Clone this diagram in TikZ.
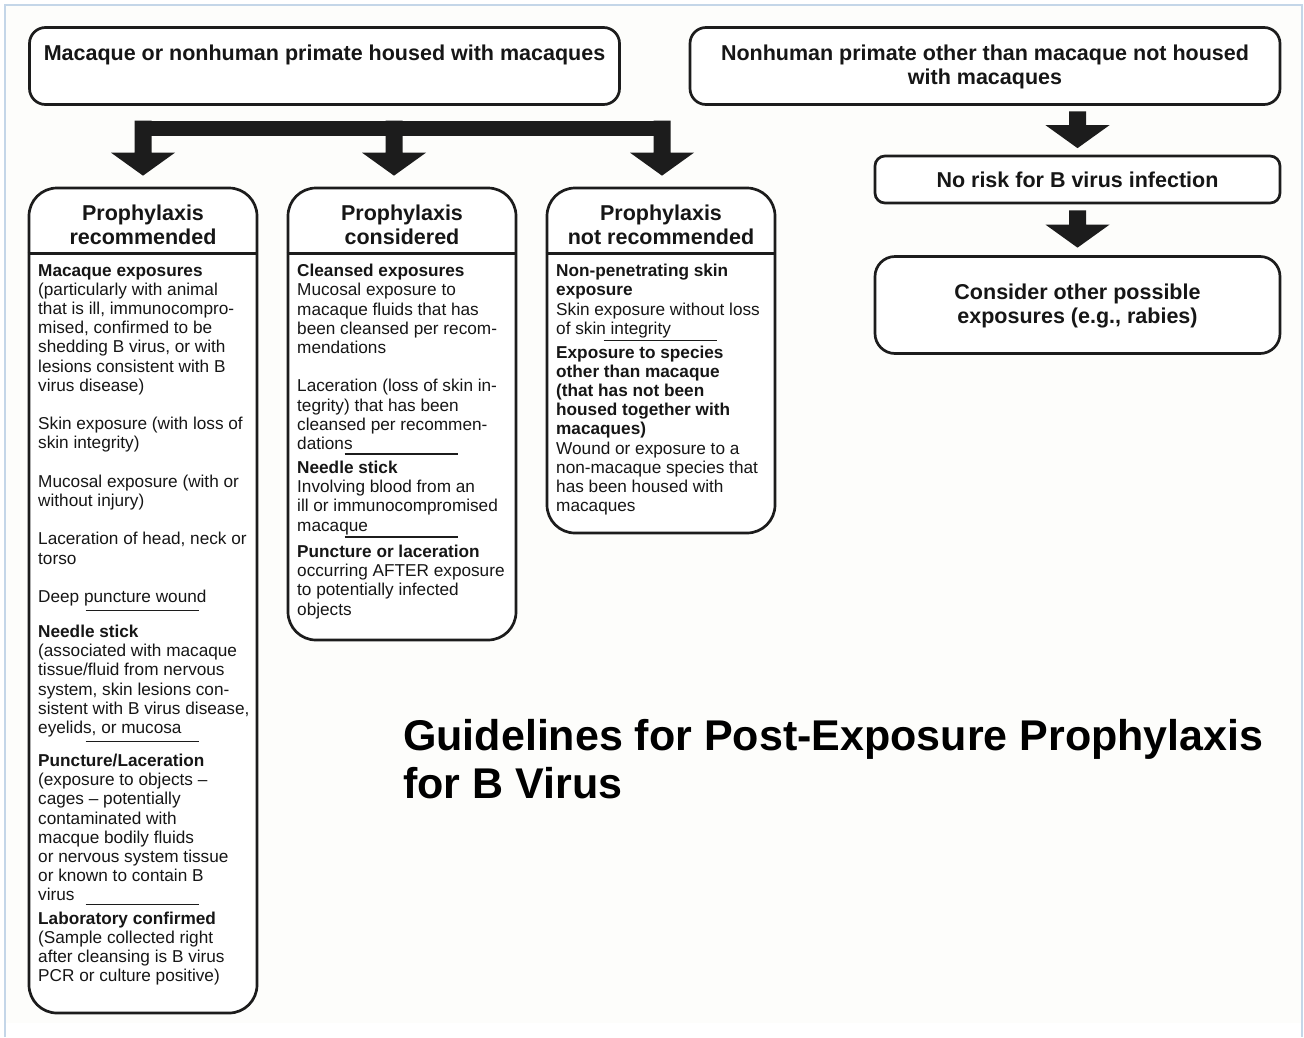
\documentclass[tikz,border=0pt]{standalone}
\usepackage{fontspec}
\setmainfont{Liberation Sans}
\usetikzlibrary{calc}

\definecolor{ink}{RGB}{28,28,28}
\definecolor{txt}{RGB}{22,22,22}
\definecolor{framecol}{RGB}{196,214,232}
\definecolor{paper}{RGB}{253,253,251}

\newcommand\bodyfont{\fontsize{17.2}{19.2}\selectfont}
\newcommand\headfont{\fontsize{21.5}{24}\selectfont\bfseries}
\newcommand\titlefont{\fontsize{43}{48}\selectfont\bfseries}

% a left-aligned text block whose anchor is the baseline of its first line
\newcommand\txtblock[3]{%
  \node[txtblk] (#1) at (#2) {\begin{minipage}[t]{250pt}\raggedright #3\end{minipage}};}
% a centred block of heading lines, anchored at the first baseline
\newcommand\headblock[4]{%
  \node[headblk] (#1) at (#2) {\begin{minipage}[t]{#3}\centering #4\end{minipage}};}
% a solid block arrow from a top point down to a tip
\newcommand\blockarrow[2]{%
  \fill[ink] ($(#1)+(-8.5,0)$) -- ($(#1)+(8.5,0)$) -- ($(#2)+(8.5,-23)$)
    -- ($(#2)+(32,-23)$) -- (#2) -- ($(#2)+(-32,-23)$) -- ($(#2)+(-8.5,-23)$) -- cycle;}

\begin{document}
\begin{tikzpicture}[x=1pt,y=-1pt,
  box/.style={draw=ink, line width=2.7pt, rounded corners=#1, inner sep=0pt, fill=white},
  box/.default=14pt,
  txtblk/.style={anchor=base west, inner sep=0pt, text=txt, font=\bodyfont},
  headblk/.style={anchor=base, inner sep=0pt, text=txt, font=\headfont},
  rule/.style={draw=ink, line width=1.6pt},
  divider/.style={draw=ink, line width=2.4pt}]

\useasboundingbox (0,0) rectangle (1304,1037);

% page frame
\fill[paper] (5,5) rectangle (1302,1023);
\draw[framecol, line width=2pt] (5,1037) -- (5,5) -- (1302,5) -- (1302,1037);

% ---------- top row ----------
\node[box=16pt, minimum width=590pt, minimum height=77pt] (hostA) at (324.5,66) {};
\node[headblk] (hostAt) at (324.5,60) {Macaque or nonhuman primate housed with macaques};

\node[box=16pt, minimum width=590pt, minimum height=77pt] (hostB) at (985,66) {};
\headblock{hostBt}{985,60}{580pt}{Nonhuman primate other than macaque not housed\\with macaques}

% ---------- right branch ----------
\node[box=10pt, minimum width=405pt, minimum height=47pt] (norisk) at (1077.5,179.5) {};
\node[headblk] (noriskt) at (1077.5,187) {No risk for B virus infection};

\node[box=20pt, minimum width=405pt, minimum height=97pt] (other) at (1077.5,305) {};
\headblock{othert}{1077.5,299.5}{400pt}{Consider other possible\\exposures (e.g., rabies)}

\coordinate (r1s) at ($(norisk.north |- hostB.south)+(0,5.5)$);
\coordinate (r1t) at ($(norisk.north)+(0,-6.5)$);
\blockarrow{r1s}{r1t}
\coordinate (r2s) at ($(norisk.south)+(0,6)$);
\coordinate (r2t) at ($(other.north)+(0,-7.5)$);
\blockarrow{r2s}{r2t}

% ---------- three columns ----------
\node[box=28pt, minimum width=228pt, minimum height=825pt] (c1) at (143,600.5) {};
\node[box=28pt, minimum width=228pt, minimum height=452pt] (c2) at (402,414) {};
\node[box=28pt, minimum width=228pt, minimum height=345pt] (c3) at (661,360.5) {};

\foreach \c in {c1,c2,c3}
  \draw[divider] ($(\c.north west)+(0,67)$) -- ($(\c.north east)+(0,67)$);

\headblock{h1}{$(c1.north)+(0,33.7)$}{220pt}{Prophylaxis\\recommended}
\headblock{h2}{$(c2.north)+(0,33.7)$}{220pt}{Prophylaxis\\considered}
\headblock{h3}{$(c3.north)+(0,33.7)$}{220pt}{Prophylaxis\\not recommended}

% fork from the macaque box into the three columns
\coordinate (t1) at ($(c1.north)+(0,-11)$);
\coordinate (t2) at ($(c2.north)+(-8,-11)$);
\coordinate (t3) at ($(c3.north)+(1,-11)$);
\fill[ink] ($(t1)+(-8,-55)$) rectangle ($(t3)+(8,-39.5)$);
\foreach \t in {t1,t2,t3}{
  \coordinate (\t s) at ($(\t)+(0,-55)$);
  \blockarrow{\t s}{\t}
}

% separators inside the columns
\foreach \c/\d in {c1/424, c1/554.7, c1/718, c2/267.3, c2/350.3, c3/153.7}
  \draw[rule] ($(\c.north west)+(58,\d)$) -- ++(113,0);

% column 1
\txtblock{c1a}{38,276}{\textbf{Macaque exposures}\\
(particularly with animal\\
that is ill, immunocompro-\\
mised, confirmed to be\\
shedding B virus, or with\\
lesions consistent with B\\
virus disease)\\[19.2pt]
Skin exposure (with loss of\\
skin integrity)\\[19.2pt]
Mucosal exposure (with or\\
without injury)\\[19.2pt]
Laceration of head, neck or\\
torso\\[19.2pt]
Deep puncture wound}
\txtblock{c1b}{38,637.5}{\textbf{Needle stick}\\
(associated with macaque\\
tissue/fluid from nervous\\
system, skin lesions con-\\
sistent with B virus disease,\\
eyelids, or mucosa}
\txtblock{c1c}{38,766.5}{\textbf{Puncture/Laceration}\\
(exposure to objects –\\
cages – potentially\\
contaminated with\\
macque bodily fluids\\
or nervous system tissue\\
or known to contain B\\
virus}
\txtblock{c1d}{38,924}{\textbf{Laboratory confirmed}\\
(Sample collected right\\
after cleansing is B virus\\
PCR or culture positive)}

% column 2
\txtblock{c2a}{297,276.7}{\textbf{Cleansed exposures}\\
Mucosal exposure to\\
macaque fluids that has\\
been cleansed per recom-\\
mendations\\[19.2pt]
Laceration (loss of skin in-\\
tegrity) that has been\\
cleansed per recommen-\\
dations}
\txtblock{c2b}{297,473.5}{\textbf{Needle stick}\\
Involving blood from an\\
ill or immunocompromised\\
macaque}
\txtblock{c2c}{297,557.5}{\textbf{Puncture or laceration}\\
occurring AFTER exposure\\
to potentially infected\\
objects}

% column 3
\txtblock{c3a}{556,276.7}{\textbf{Non-penetrating skin}\\
\textbf{exposure}\\
Skin exposure without loss\\
of skin integrity}
\txtblock{c3b}{556,358}{\textbf{Exposure to species}\\
\textbf{other than macaque}\\
\textbf{(that has not been}\\
\textbf{housed together with}\\
\textbf{macaques)}\\
Wound or exposure to a\\
non-macaque species that\\
has been housed with\\
macaques}

% title
\node[anchor=base west, inner sep=0pt, text=black, font=\titlefont] (title) at (403,750)
  {\begin{minipage}[t]{900pt}\raggedright Guidelines for Post-Exposure Prophylaxis\\for B Virus\end{minipage}};

\end{tikzpicture}
\end{document}
